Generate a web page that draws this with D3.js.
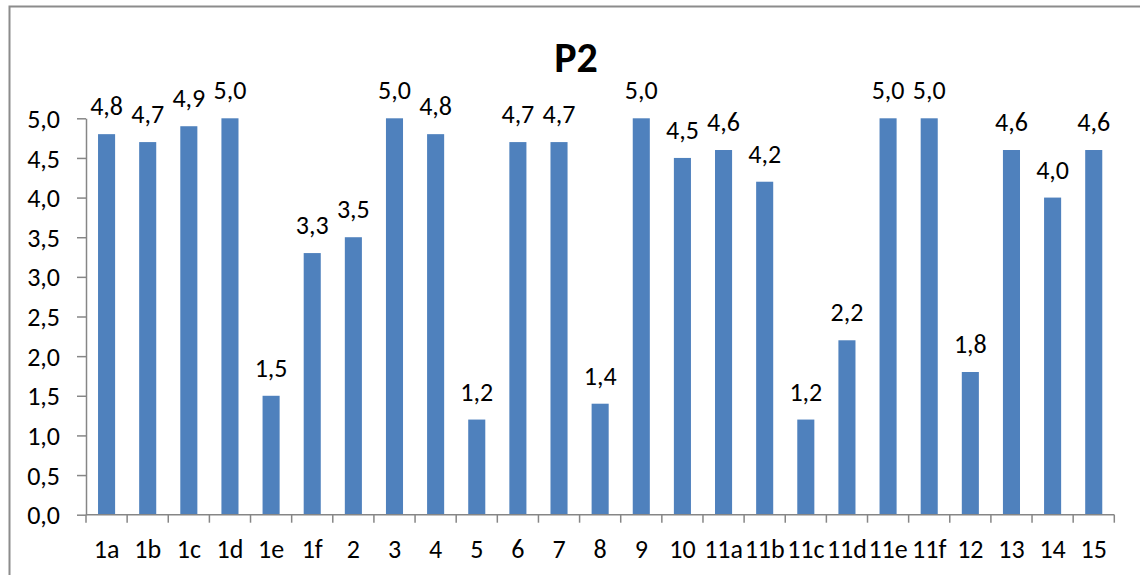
<!DOCTYPE html>
<html>
<head>
<meta charset="utf-8">
<script src="https://cdn.jsdelivr.net/npm/d3@7"></script>
<style>
  html, body { margin: 0; padding: 0; background: #fff; }
  svg { display: block; font-family: Carlito, Lato, "Open Sans", sans-serif; }
</style>
</head>
<body>
<svg id="chart" width="1140" height="575"></svg>
<script>
const categories = ["1a","1b","1c","1d","1e","1f","2","3","4","5","6","7","8","9","10","11a","11b","11c","11d","11e","11f","12","13","14","15"];
const values = [4.8,4.7,4.9,5.0,1.5,3.3,3.5,5.0,4.8,1.2,4.7,4.7,1.4,5.0,4.5,4.6,4.2,1.2,2.2,5.0,5.0,1.8,4.6,4.0,4.6];
const yTicks = [0,0.5,1,1.5,2,2.5,3,3.5,4,4.5,5];
const title = "P2";

const fmt = v => d3.format(".1f")(v).replace(".", ",");
const labelSize = 26;

const svg = d3.select("#chart");
const axisColor = "#868686";

// chart frame
svg.append("rect")
  .attr("x", 9.5).attr("y", 6.5)
  .attr("width", 1150).attr("height", 600)
  .attr("fill", "none").attr("stroke", "#8c8c8c").attr("stroke-width", 2);

const plotLeft = 86, plotRight = 1114.3, plotTop = 118.3, plotBottom = 514.7;

const x = d3.scaleBand().domain(categories).range([plotLeft, plotRight]).paddingInner(0.585).paddingOuter(0.2925);
const y = d3.scaleLinear().domain([0, 5]).range([plotBottom, plotTop]);

// title
svg.append("text")
  .attr("x", 576).attr("y", 71.5)
  .attr("text-anchor", "middle")
  .attr("font-weight", "bold")
  .attr("font-size", 42)
  .text(title);

const rows = categories.map((c, i) => ({ c, v: values[i] }));

// bars
svg.append("g").selectAll("rect")
  .data(rows)
  .join("rect")
  .attr("x", d => x(d.c))
  .attr("width", x.bandwidth())
  .attr("y", d => y(d.v))
  .attr("height", d => y(0) - y(d.v))
  .attr("fill", "#4F81BD");

// value labels
svg.append("g").selectAll("text")
  .data(rows)
  .join("text")
  .attr("x", d => x(d.c) + x.bandwidth() / 2)
  .attr("y", d => y(d.v) - 19)
  .attr("text-anchor", "middle")
  .attr("font-size", labelSize)
  .attr("fill", "#000")
  .text(d => fmt(d.v));

// y axis
const yAxis = svg.append("g")
  .attr("transform", `translate(${plotLeft},0)`)
  .call(d3.axisLeft(y).tickValues(yTicks).tickFormat(fmt).tickSize(9).tickSizeOuter(0));
yAxis.select(".domain").attr("stroke", axisColor).attr("stroke-width", 1.5);
yAxis.selectAll(".tick line").attr("stroke", axisColor).attr("stroke-width", 1.5);
yAxis.selectAll(".tick text")
  .attr("font-size", labelSize).attr("fill", "#000")
  .attr("font-family", "Carlito, Lato, sans-serif")
  .attr("x", -26).attr("dy", "0.35em");

// x axis: ticks at band boundaries
const xAxisG = svg.append("g").attr("transform", `translate(0,${plotBottom})`);
const boundaries = d3.range(categories.length + 1).map(i => plotLeft + i * (plotRight - plotLeft) / categories.length);
xAxisG.append("line")
  .attr("x1", plotLeft).attr("x2", plotRight)
  .attr("stroke", axisColor).attr("stroke-width", 1.5);
xAxisG.selectAll("line.tk")
  .data(boundaries)
  .join("line").attr("class", "tk")
  .attr("x1", d => d).attr("x2", d => d)
  .attr("y1", 0).attr("y2", 8)
  .attr("stroke", axisColor).attr("stroke-width", 1.5);
xAxisG.selectAll("text")
  .data(categories)
  .join("text")
  .attr("x", d => x(d) + x.bandwidth() / 2)
  .attr("y", 43)
  .attr("text-anchor", "middle")
  .attr("font-size", labelSize)
  .attr("fill", "#000")
  .text(d => d);
</script>
</body>
</html>
